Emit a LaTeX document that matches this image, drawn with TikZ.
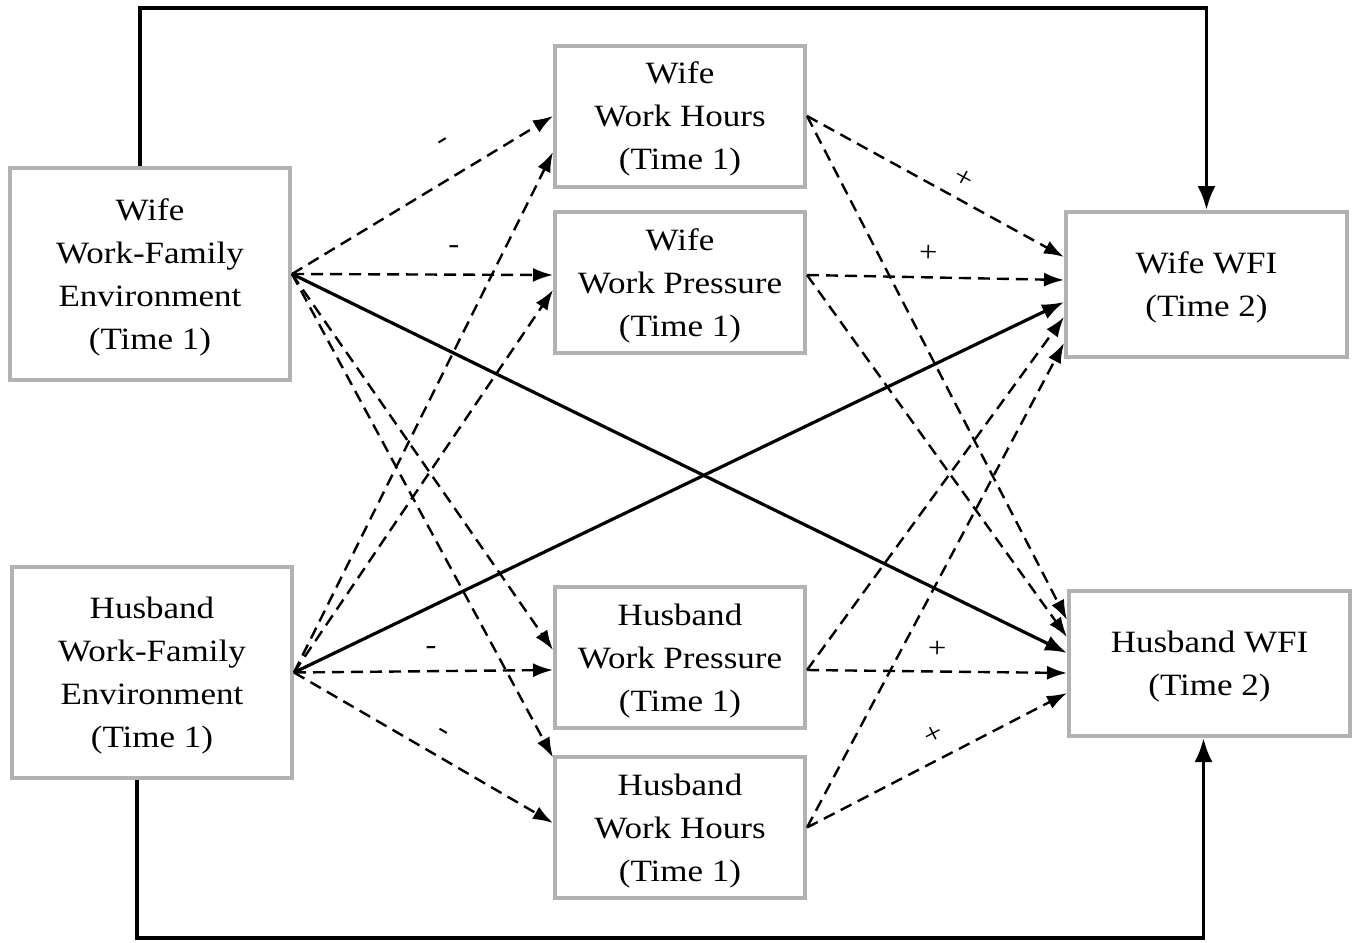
\documentclass[tikz,border=0pt]{standalone}
\usepackage{fontspec}
\setmainfont{Liberation Serif}[FakeStretch=1.13]
\usetikzlibrary{arrows.meta}
\tikzset{>=Latex}
\colorlet{boxgray}{black!30}

\begin{document}
\begin{tikzpicture}[x=0.5pt, y=-0.5pt,
                    line join=miter,
                    box/.style={draw=boxgray, line width=2pt, align=center, inner sep=0pt,
                                text depth=0pt, font=\fontsize{15.5}{21.5}\selectfont},
                    envbox/.style={box, minimum width=140pt, minimum height=106pt},
                    medbox/.style={box, minimum width=125pt, minimum height=70.5pt},
                    wfibox/.style={box, minimum width=140.5pt, minimum height=72.5pt},
                    dasharrow/.style={->, >={Latex[length=10pt,width=7pt]}, line width=1.2pt,
                                      dash pattern=on 6pt off 3.5pt},
                    solidarrow/.style={->, >={Latex[length=11pt,width=8pt]}, line width=1.6pt},
                    bracket/.style={->, >={Latex[length=12pt,width=9pt]}, line width=1.75pt},
                    sign/.style={sloped, inner sep=1pt, font=\fontsize{14.5}{14.5}\selectfont}]
  \useasboundingbox (0,0) rectangle (1354,942);

  % work-family environments (time 1)
  \node[envbox] (wwfe) at (150,274)   {Wife\\Work-Family\\Environment\\(Time 1)};
  \node[envbox, minimum height=105.5pt] (hwfe) at (152,672.5) {Husband\\Work-Family\\Environment\\(Time 1)};

  % mediators
  \node[medbox] (wwh) at (680,116)   {Wife\\Work Hours\\(Time 1)};
  \node[medbox] (wwp) at (680,282.5) {Wife\\Work Pressure\\(Time 1)};
  \node[medbox] (hwp) at (680,657.5) {Husband\\Work Pressure\\(Time 1)};
  \node[medbox] (hwh) at (680,827.5) {Husband\\Work Hours\\(Time 1)};

  % outcomes (time 2)
  \node[wfibox] (wwfi) at (1206.5,284.5) {Wife WFI\\(Time 2)};
  \node[wfibox] (hwfi) at (1209.5,663.5) {Husband WFI\\(Time 2)};

  % outer paths
  \coordinate (topline) at (0,8);
  \coordinate (botline) at (0,938);
  \draw[bracket] ([xshift=-5pt]wwfe.north) -- ([xshift=-5pt]wwfe.north |- topline) -| (wwfi.north);
  \draw[bracket] ([xshift=-7.5pt]hwfe.south) -- ([xshift=-7.5pt]hwfe.south |- botline)
                 -| ([xshift=-3pt]hwfi.south);

  % unlabelled dashed paths
  \foreach \from/\fs/\to/\ts in {wwfe/0/hwp/3.75, wwfe/0/hwh/35,
                                 hwfe/0/wwh/-18, hwfe/0/wwp/-3.75,
                                 wwh/0/hwfi/21.75, wwp/3.75/hwfi/13.25,
                                 hwp/-6.25/wwfi/-16.25, hwh/0/wwfi/-29.25}{
    \draw[dasharrow] ([yshift=\fs pt]\from.east) -- ([yshift=\ts pt]\to.west);
  }

  % labelled dashed paths
  \draw[dasharrow] (wwfe.east) -- node[sign, pos=0.65, above=13pt] {-} (wwh.west);
  \draw[dasharrow] (wwfe.east) -- node[sign, pos=0.62, above=9pt] {-} ([yshift=3.75pt]wwp.west);
  \draw[dasharrow] (hwfe.east) -- node[sign, pos=0.53, above=7pt] {-} ([yshift=-6.25pt]hwp.west);
  \draw[dasharrow] (hwfe.east) -- node[sign, pos=0.53, above=7pt] {-} ([yshift=2.25pt]hwh.west);
  \draw[dasharrow] (wwh.east) -- node[sign, pos=0.57, above=4.5pt] {+} ([yshift=13.75pt]wwfi.west);
  \draw[dasharrow] ([yshift=3.75pt]wwp.east) -- node[sign, pos=0.47, above=6pt] {+} ([yshift=2.25pt]wwfi.west);
  \draw[dasharrow] ([yshift=-6.25pt]hwp.east) -- node[sign, pos=0.5, above=5.5pt] {+} ([yshift=-4.75pt]hwfi.west);
  \draw[dasharrow] (hwh.east) -- node[sign, pos=0.53, above=6pt] {+} ([yshift=-14.75pt]hwfi.west);

  % cross paths
  \draw[solidarrow] (wwfe.east) -- ([yshift=5.25pt]hwfi.west);
  \draw[solidarrow] (hwfe.east) -- ([yshift=-8.75pt]wwfi.west);

\end{tikzpicture}
\end{document}
